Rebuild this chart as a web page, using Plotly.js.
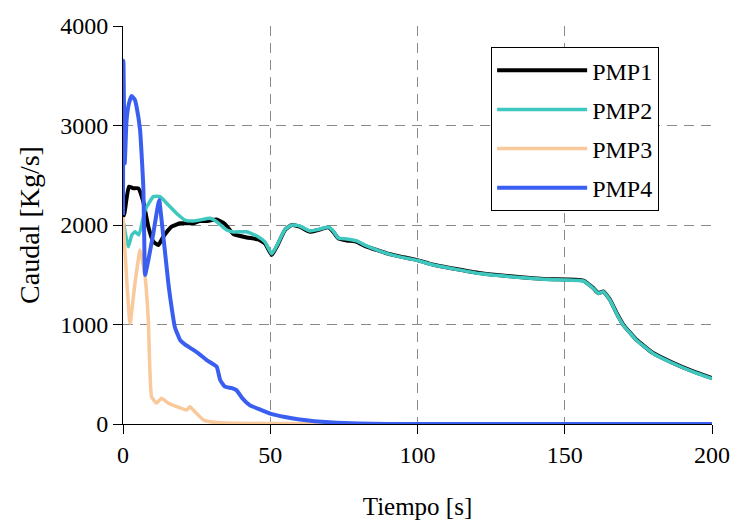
<!DOCTYPE html>
<html>
<head>
<meta charset="utf-8">
<script src="https://cdn.plot.ly/plotly-3.0.1.min.js"></script>
<style>html,body{margin:0;padding:0;background:#fff;}#chart{width:732px;height:524px;}</style>
</head>
<body>
<div id="chart"></div>
<script>
// Series names
const seriesNames = ["PMP1", "PMP2", "PMP3", "PMP4"];

// PMP1 (black)
const t1 = [0, 0.5, 2, 3.5, 5.2, 6.9, 8.6, 10.3, 12, 13.7, 16.5, 19.4, 23.8, 26, 28.4, 31.8, 34.6, 37.5, 42, 45.9, 48.2, 50.5, 52.2, 55, 57.3, 60, 63.5, 66.3, 69.7, 71.4, 73.1, 76, 79.3, 82.7, 86.1, 89.5, 94, 99.7, 105.4, 121, 132.5, 144, 156.3, 159.7, 161.4, 163.1, 165.4, 167.6, 169.9, 174.4, 180, 186.9, 193.6, 200];
const pmp1 = [2080, 2120, 2385, 2370, 2369, 2234, 1983, 1832, 1799, 1883, 1983, 2017, 2017, 2040, 2040, 2055, 2010, 1910, 1875, 1855, 1816, 1698, 1782, 1950, 2000, 1983, 1932, 1950, 1976, 1932, 1866, 1845, 1832, 1782, 1749, 1715, 1685, 1650, 1600, 1517, 1482, 1456, 1442, 1366, 1315, 1332, 1248, 1115, 997, 846, 713, 612, 528, 461];

// PMP2 (teal)
const t2 = [0, 1.8, 3, 4.1, 5.4, 7.5, 10.3, 12.6, 15.4, 18.8, 21, 23.8, 26.1, 29.5, 31.8, 35.2, 37.5, 42, 45.9, 48.2, 50.5, 52.2, 55, 57.3, 60, 63.5, 66.3, 69.7, 71.4, 73.1, 76, 79.3, 82.7, 86.1, 89.5, 94, 99.7, 105.4, 121, 132.5, 144, 156.3, 159.7, 161.4, 163.1, 165.4, 167.6, 169.9, 174.4, 180, 186.9, 193.6, 200];
const pmp2 = [2050, 1782, 1900, 1932, 1900, 2150, 2285, 2285, 2201, 2100, 2050, 2040, 2050, 2067, 2033, 1950, 1930, 1932, 1883, 1830, 1710, 1790, 1955, 2000, 1990, 1940, 1955, 1980, 1940, 1870, 1860, 1840, 1790, 1750, 1715, 1680, 1645, 1598, 1512, 1478, 1452, 1437, 1362, 1312, 1330, 1244, 1110, 993, 842, 709, 608, 524, 457];

// PMP3 (peach)
const t3 = [0, 2.4, 4, 5.8, 7.5, 8.6, 9.7, 11.4, 13.1, 15.3, 18.2, 21.6, 22.7, 24.4, 27.3, 29.5, 35, 50, 70, 100, 200];
const pmp3 = [2080, 1015, 1400, 1749, 1480, 1045, 275, 210, 260, 210, 174, 141, 174, 124, 40, 23, 10, 5, 2, 0, 0];

// PMP4 (blue)
const t4 = [0, 0.15, 0.6, 1.2, 2, 2.9, 4, 4.6, 5.8, 6.3, 6.9, 7.2, 7.5, 8.6, 10.3, 11.4, 12.3, 13.1, 14.3, 15.4, 16, 17.6, 19.4, 21, 23.9, 26, 28.4, 31.8, 33, 34.6, 37, 38.5, 40.5, 43, 47, 50, 55, 60, 65, 70, 75, 80, 90, 100, 200];
const pmp4 = [2100, 3650, 2620, 3050, 3220, 3296, 3260, 3190, 2955, 2723, 2385, 1883, 1497, 1648, 1916, 2117, 2251, 2050, 1718, 1414, 1276, 975, 844, 800, 744, 700, 643, 576, 442, 375, 360, 340, 260, 190, 140, 105, 70, 45, 28, 17, 9, 4, 1, 0, 0];

const colors = ["#000000", "#3ec8bf", "#f9c89b", "#3a5ff0"];
const widths = [4, 3.5, 3.5, 4];
const xs = [t1, t2, t3, t4];
const ys = [pmp1, pmp2, pmp3, pmp4];

const traces = seriesNames.map((n, i) => ({
  x: xs[i], y: ys[i], name: n, type: "scatter", mode: "lines",
  legendgroup: n,
  line: {color: colors[i], width: widths[i], shape: "spline", smoothing: 0.4},
  cliponaxis: false
}));

const font = '"Liberation Serif", "Times New Roman", Times, serif';
const layout = {
  width: 732, height: 524,
  margin: {l: 123, r: 20, t: 26, b: 100},
  paper_bgcolor: "#fff", plot_bgcolor: "#fff",
  font: {family: font, color: "#000", size: 22},
  showlegend: true,
  legend: {
    x: 0.625, y: 0.947, xanchor: "left", yanchor: "top",
    bordercolor: "#000", borderwidth: 1, bgcolor: "#fff",
    font: {family: font, size: 24, color: "#000"},
    itemwidth: 90, tracegroupgap: 5
  },
  xaxis: {
    range: [0, 200], tickvals: [0, 50, 100, 150, 200],
    showline: true, linecolor: "#000", linewidth: 1,
    ticks: "outside", ticklen: 9, tickcolor: "#000",
    showgrid: true, gridcolor: "#8a8a8a", griddash: "10px,7px", gridwidth: 1,
    zeroline: false,
    tickfont: {family: font, size: 24},
    title: {text: "Tiempo [s]", font: {family: font, size: 25}, standoff: 30}
  },
  yaxis: {
    range: [0, 4000], tickvals: [0, 1000, 2000, 3000, 4000],
    showline: true, linecolor: "#000", linewidth: 1,
    ticks: "outside", ticklen: 9, tickcolor: "#000",
    showgrid: true, gridcolor: "#8a8a8a", griddash: "10px,7px", gridwidth: 1,
    zeroline: false,
    tickfont: {family: font, size: 24},
    title: {text: "Caudal [Kg/s]", font: {family: font, size: 28}, standoff: 12}
  }
};

Plotly.newPlot("chart", traces, layout, {displayModeBar: false, staticPlot: true});
</script>
</body>
</html>
